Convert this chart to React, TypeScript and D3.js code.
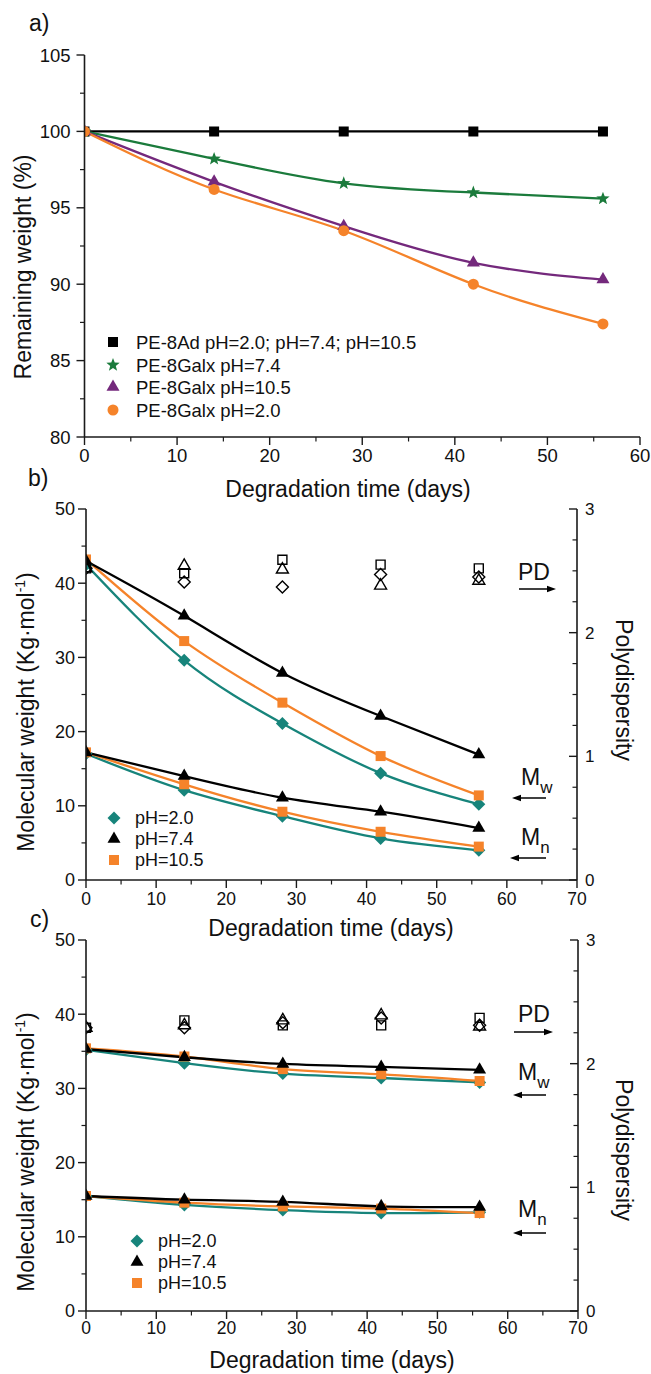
import React from 'react';
import * as d3 from 'd3';

// ---------- Panel a data ----------
const daysA = [0, 14, 28, 42, 56];
const adAllPH = [100, 100, 100, 100, 100];
const galxPH74 = [100, 98.2, 96.6, 96.0, 95.6];
const galxPH105 = [100, 96.7, 93.8, 91.4, 90.3];
const galxPH20 = [100, 96.2, 93.5, 90.0, 87.4];
const legendA = ['PE-8Ad pH=2.0; pH=7.4; pH=10.5', 'PE-8Galx pH=7.4', 'PE-8Galx pH=10.5', 'PE-8Galx pH=2.0'];
const xTicksA = [0, 10, 20, 30, 40, 50, 60];
const yTicksA = [80, 85, 90, 95, 100, 105];

// ---------- Panel b data ----------
const days = [0, 14, 28, 42, 56];
const bMwPH20 = [42.5, 29.6, 21.1, 14.4, 10.2];
const bMwPH74 = [43.0, 35.6, 27.9, 22.1, 16.9];
const bMwPH105 = [43.2, 32.2, 23.9, 16.7, 11.4];
const bMnPH20 = [17.0, 12.1, 8.6, 5.6, 4.0];
const bMnPH74 = [17.2, 14.0, 11.1, 9.2, 7.0];
const bMnPH105 = [17.2, 12.9, 9.2, 6.5, 4.5];
const bPdPH20 = [2.52, 2.41, 2.37, 2.47, 2.45];
const bPdPH74 = [2.52, 2.54, 2.51, 2.38, 2.42];
const bPdPH105 = [2.52, 2.48, 2.59, 2.55, 2.52];

// ---------- Panel c data ----------
const cMwPH20 = [35.2, 33.4, 32.0, 31.4, 30.8];
const cMwPH74 = [35.3, 34.2, 33.3, 32.9, 32.5];
const cMwPH105 = [35.4, 34.3, 32.6, 31.9, 31.0];
const cMnPH20 = [15.5, 14.3, 13.6, 13.2, 13.3];
const cMnPH74 = [15.5, 15.0, 14.7, 14.1, 14.0];
const cMnPH105 = [15.5, 14.6, 14.1, 13.8, 13.2];
const cPdPH20 = [2.29, 2.29, 2.33, 2.37, 2.31];
const cPdPH74 = [2.29, 2.31, 2.35, 2.39, 2.30];
const cPdPH105 = [2.29, 2.35, 2.31, 2.31, 2.37];

const legendBC = ['pH=2.0', 'pH=7.4', 'pH=10.5'];
const xTicksBC = [0, 10, 20, 30, 40, 50, 60, 70];
const yTicksBC = [0, 10, 20, 30, 40, 50];
const rTicksBC = [0, 1, 2, 3];

const FONT = '"Liberation Sans", Arial, Helvetica, sans-serif';
const AX = '#1a1a1a';
const TEAL = '#17847b';
const ORANGE = '#f5832a';
const GREEN = '#1b7b3c';
const PURPLE = '#74297c';

function markerD(shape: string, s: number): string {
  if (shape === 'square') {
    const h = s / 2;
    return `M${-h},${-h}H${h}V${h}H${-h}Z`;
  }
  if (shape === 'diamond') {
    const d = s / 2;
    return `M0,${-d}L${d},0L0,${d}L${-d},0Z`;
  }
  if (shape === 'triangle') {
    const h = (s * Math.sqrt(3)) / 2;
    return `M0,${(-2 * h) / 3}L${s / 2},${h / 3}L${-s / 2},${h / 3}Z`;
  }
  if (shape === 'star') {
    const R = s / 2;
    const r = R * 0.42;
    let p = '';
    for (let i = 0; i < 10; i++) {
      const a = -Math.PI / 2 + (i * Math.PI) / 5;
      const rr = i % 2 === 0 ? R : r;
      p += (i === 0 ? 'M' : 'L') + (rr * Math.cos(a)).toFixed(2) + ',' + (rr * Math.sin(a)).toFixed(2);
    }
    return p + 'Z';
  }
  const r = s / 2;
  return `M${r},0A${r},${r} 0 1,1 ${-r},0A${r},${r} 0 1,1 ${r},0Z`;
}

function Arrow({ x1, x2, y }: { x1: number; x2: number; y: number }) {
  const dir = Math.sign(x2 - x1);
  const hl = 9;
  const hw = 3.2;
  return (
    <g>
      <line x1={x1} y1={y} x2={x2 - dir * hl * 0.8} y2={y} stroke="#000" strokeWidth={1.5} />
      <path d={`M${x2},${y}L${x2 - dir * hl},${y - hw}L${x2 - dir * hl},${y + hw}Z`} fill="#000" />
    </g>
  );
}

function XAxis({ scale, y, ticks, minorStep, labelY, fs }: any) {
  const [d0, d1] = scale.domain();
  const minors = d3.range(d0, d1 + 0.001, minorStep).filter((v: number) => !ticks.includes(v));
  const [r0, r1] = scale.range();
  return (
    <g>
      <line x1={r0} x2={r1} y1={y} y2={y} stroke={AX} strokeWidth={1.6} />
      {ticks.map((t: number) => (
        <g key={'M' + t}>
          <line x1={scale(t)} x2={scale(t)} y1={y} y2={y + 8} stroke={AX} strokeWidth={1.4} />
          <text x={scale(t)} y={labelY} fontSize={fs} textAnchor="middle" fontFamily={FONT} fill="#111">
            {t}
          </text>
        </g>
      ))}
      {minors.map((t: number) => (
        <line key={'m' + t} x1={scale(t)} x2={scale(t)} y1={y} y2={y + 4.5} stroke={AX} strokeWidth={1.2} />
      ))}
    </g>
  );
}

function YAxis({ scale, x, ticks, minorStep, side, fs, gap, tickIn }: any) {
  const [d0, d1] = scale.domain();
  const minors = d3.range(d0, d1 + 0.001, minorStep).filter((v: number) => !ticks.some((t: number) => Math.abs(t - v) < 1e-6));
  const [r0, r1] = scale.range();
  const dir = side === 'left' ? -1 : 1;
  const tdir = tickIn ? -dir : dir;
  return (
    <g>
      <line x1={x} x2={x} y1={r0} y2={r1} stroke={AX} strokeWidth={1.6} />
      {ticks.map((t: number) => (
        <g key={'M' + t}>
          <line x1={x} x2={x + tdir * 8} y1={scale(t)} y2={scale(t)} stroke={AX} strokeWidth={1.4} />
          <text
            x={x + dir * gap}
            y={scale(t)}
            dy="0.36em"
            fontSize={fs}
            textAnchor={side === 'left' ? 'end' : 'start'}
            fontFamily={FONT}
            fill="#111"
          >
            {t}
          </text>
        </g>
      ))}
      {minors.map((t: number, i: number) => (
        <line key={'m' + i} x1={x} x2={x + tdir * 4.5} y1={scale(t)} y2={scale(t)} stroke={AX} strokeWidth={1.2} />
      ))}
    </g>
  );
}

function PanelA() {
  const x = d3.scaleLinear().domain([0, 60]).range([84.5, 640]);
  const y = d3.scaleLinear().domain([80, 105]).range([437, 55]);
  const series = [
    { v: adAllPH, color: '#000', shape: 'square', size: 10 },
    { v: galxPH74, color: GREEN, shape: 'star', size: 14 },
    { v: galxPH105, color: PURPLE, shape: 'triangle', size: 13 },
    { v: galxPH20, color: ORANGE, shape: 'circle', size: 11 },
  ];
  const line = (vals: number[]) =>
    d3
      .line<number>()
      .x((_, i) => x(daysA[i]))
      .y((d) => y(d))
      .curve(d3.curveNatural)(vals) as string;
  const legRows = [342, 365, 387, 410];
  return (
    <g>
      <defs>
        <clipPath id="clipA">
          <rect x={84.5} y={40} width={600} height={397} />
        </clipPath>
      </defs>
      <g clipPath="url(#clipA)">
        {series.map((s, k) => (
          <path key={'l' + k} d={line(s.v)} fill="none" stroke={s.color} strokeWidth={2.3} />
        ))}
        {series.map((s, k) =>
          s.v.map((v, i) => (
            <path
              key={'p' + k + i}
              d={markerD(s.shape, s.size)}
              transform={`translate(${x(daysA[i])},${y(v)})`}
              fill={s.color}
            />
          ))
        )}
      </g>
      <XAxis scale={x} y={437} ticks={xTicksA} minorStep={5} labelY={462} fs={18.5} />
      <YAxis scale={y} x={84.5} ticks={yTicksA} minorStep={2.5} side="left" fs={18.5} gap={14} />
      {series.map((s, k) => (
        <g key={'lg' + k}>
          <path d={markerD(s.shape, s.size)} transform={`translate(113,${legRows[k]})`} fill={s.color} />
          <text x={136} y={legRows[k]} dy="0.36em" fontSize={18.5} fontFamily={FONT} fill="#111">
            {legendA[k]}
          </text>
        </g>
      ))}
      <text x={29} y={31} fontSize={23} fontFamily={FONT} fill="#111">
        a)
      </text>
      <text x={348} y={497} fontSize={23} fontFamily={FONT} textAnchor="middle" fill="#111">
        Degradation time (days)
      </text>
      <text
        transform={`translate(31,267) rotate(-90)`}
        fontSize={23}
        fontFamily={FONT}
        textAnchor="middle"
        fill="#111"
      >
        Remaining weight (%)
      </text>
    </g>
  );
}

function PanelMW({ cfg }: any) {
  const x = d3.scaleLinear().domain([0, 70]).range([cfg.x0, cfg.x1]);
  const y = d3.scaleLinear().domain([0, 50]).range([cfg.yb, cfg.yt]);
  const yr = d3.scaleLinear().domain([0, 3]).range([cfg.yb, cfg.yt]);
  const line = (vals: number[]) =>
    d3
      .line<number>()
      .x((_, i) => x(days[i]))
      .y((d) => y(d))
      .curve(d3.curveNatural)(vals) as string;
  const groups = [
    { mw: cfg.mw[0], mn: cfg.mn[0], pd: cfg.pd[0], color: TEAL, shape: 'diamond', size: 13 },
    { mw: cfg.mw[1], mn: cfg.mn[1], pd: cfg.pd[1], color: '#000', shape: 'triangle', size: 13 },
    { mw: cfg.mw[2], mn: cfg.mn[2], pd: cfg.pd[2], color: ORANGE, shape: 'square', size: 10 },
  ];
  const order = [0, 2, 1];
  const id = 'clip' + cfg.key;
  return (
    <g>
      <defs>
        <clipPath id={id}>
          <rect x={cfg.x0} y={cfg.yt - 10} width={cfg.x1 - cfg.x0} height={cfg.yb - cfg.yt + 10} />
        </clipPath>
      </defs>
      <g clipPath={`url(#${id})`}>
        {order.map((k) => {
          const g = groups[k];
          return (
            <g key={'ln' + k}>
              <path d={line(g.mw)} fill="none" stroke={g.color} strokeWidth={2.3} />
              <path d={line(g.mn)} fill="none" stroke={g.color} strokeWidth={2.3} />
            </g>
          );
        })}
        {order.map((k) => {
          const g = groups[k];
          return (
            <g key={'mk' + k}>
              {g.mw.map((v: number, i: number) => (
                <path key={'w' + i} d={markerD(g.shape, g.size)} transform={`translate(${x(days[i])},${y(v)})`} fill={g.color} />
              ))}
              {g.mn.map((v: number, i: number) => (
                <path key={'n' + i} d={markerD(g.shape, g.size)} transform={`translate(${x(days[i])},${y(v)})`} fill={g.color} />
              ))}
            </g>
          );
        })}
        {groups.map((g, k) =>
          g.pd.map((v: number, i: number) => (
            <path
              key={'pd' + k + i}
              d={markerD(g.shape, g.size - 1)}
              transform={`translate(${x(days[i])},${yr(v)})`}
              fill="#fff"
              fillOpacity={0}
              stroke="#000"
              strokeWidth={1.4}
            />
          ))
        )}
      </g>
      <XAxis scale={x} y={cfg.yb} ticks={xTicksBC} minorStep={5} labelY={cfg.xLabelY} fs={17.5} />
      <YAxis scale={y} x={cfg.x0} ticks={yTicksBC} minorStep={5} side="left" fs={18} gap={11} />
      <YAxis scale={yr} x={cfg.x1} ticks={rTicksBC} minorStep={0.25} side="right" fs={17} gap={8} tickIn />
      {groups.map((g, k) => (
        <g key={'lg' + k}>
          <path d={markerD(g.shape, g.size)} transform={`translate(${cfg.legX},${cfg.legRows[k]})`} fill={g.color} />
          <text x={cfg.legX + 21} y={cfg.legRows[k]} dy="0.36em" fontSize={18} fontFamily={FONT} fill="#111">
            {legendBC[k]}
          </text>
        </g>
      ))}
      <text x={cfg.pdX} y={cfg.pdY} fontSize={23} fontFamily={FONT} fill="#111">
        PD
      </text>
      <Arrow x1={cfg.pdA[0]} x2={cfg.pdA[1]} y={cfg.pdA[2]} />
      <text x={cfg.mwX} y={cfg.mwY} fontSize={23} fontFamily={FONT} fill="#111">
        M
        <tspan dy={8} fontSize={17}>
          w
        </tspan>
      </text>
      <Arrow x1={cfg.mwA[0]} x2={cfg.mwA[1]} y={cfg.mwA[2]} />
      <text x={cfg.mwX} y={cfg.mnY} fontSize={23} fontFamily={FONT} fill="#111">
        M
        <tspan dy={8} fontSize={17}>
          n
        </tspan>
      </text>
      <Arrow x1={cfg.mnA[0]} x2={cfg.mnA[1]} y={cfg.mnA[2]} />
      <text x={cfg.letX} y={cfg.letY} fontSize={23} fontFamily={FONT} fill="#111">
        {cfg.letter}
      </text>
      <text x={cfg.titleX} y={cfg.titleY} fontSize={23} fontFamily={FONT} textAnchor="middle" fill="#111">
        Degradation time (days)
      </text>
      <text transform={`translate(34,${cfg.ylabY}) rotate(-90)`} fontSize={23} fontFamily={FONT} textAnchor="middle" fill="#111">
        Molecular weight (Kg·mol
        <tspan dy={-9} fontSize={14}>
          -1
        </tspan>
        <tspan dy={9}>)</tspan>
      </text>
      <text transform={`translate(616,${cfg.rlabY}) rotate(90)`} fontSize={23} fontFamily={FONT} textAnchor="middle" fill="#111">
        Polydispersity
      </text>
    </g>
  );
}

const cfgB = {
  key: 'B',
  x0: 86,
  x1: 577,
  yb: 880,
  yt: 509,
  mw: [bMwPH20, bMwPH74, bMwPH105],
  mn: [bMnPH20, bMnPH74, bMnPH105],
  pd: [bPdPH20, bPdPH74, bPdPH105],
  xLabelY: 905,
  legX: 114,
  legRows: [818, 839, 860],
  pdX: 518,
  pdY: 580,
  pdA: [519, 556, 589],
  mwX: 521,
  mwY: 785,
  mnY: 845,
  mwA: [546, 512, 798],
  mnA: [546, 510, 858],
  letter: 'b)',
  letX: 28,
  letY: 486,
  titleX: 331,
  titleY: 936,
  ylabY: 712,
  rlabY: 690,
};

const cfgC = {
  key: 'C',
  x0: 86,
  x1: 578,
  yb: 1311,
  yt: 940,
  mw: [cMwPH20, cMwPH74, cMwPH105],
  mn: [cMnPH20, cMnPH74, cMnPH105],
  pd: [cPdPH20, cPdPH74, cPdPH105],
  xLabelY: 1334,
  legX: 137,
  legRows: [1241, 1262, 1283],
  pdX: 518,
  pdY: 1022,
  pdA: [514, 553, 1032],
  mwX: 518,
  mwY: 1080,
  mnY: 1217,
  mwA: [546, 513, 1095],
  mnA: [546, 513, 1233],
  letter: 'c)',
  letX: 30,
  letY: 927,
  titleX: 332,
  titleY: 1368,
  ylabY: 1152,
  rlabY: 1150,
};

export default function App() {
  return (
    <svg
      width={651}
      height={1374}
      viewBox="0 0 651 1374"
      style={{ position: 'absolute', left: 0, top: 0, background: '#fff' }}
    >
      <rect x={0} y={0} width={651} height={1374} fill="#fff" />
      <PanelA />
      <PanelMW cfg={cfgB} />
      <PanelMW cfg={cfgC} />
    </svg>
  );
}
